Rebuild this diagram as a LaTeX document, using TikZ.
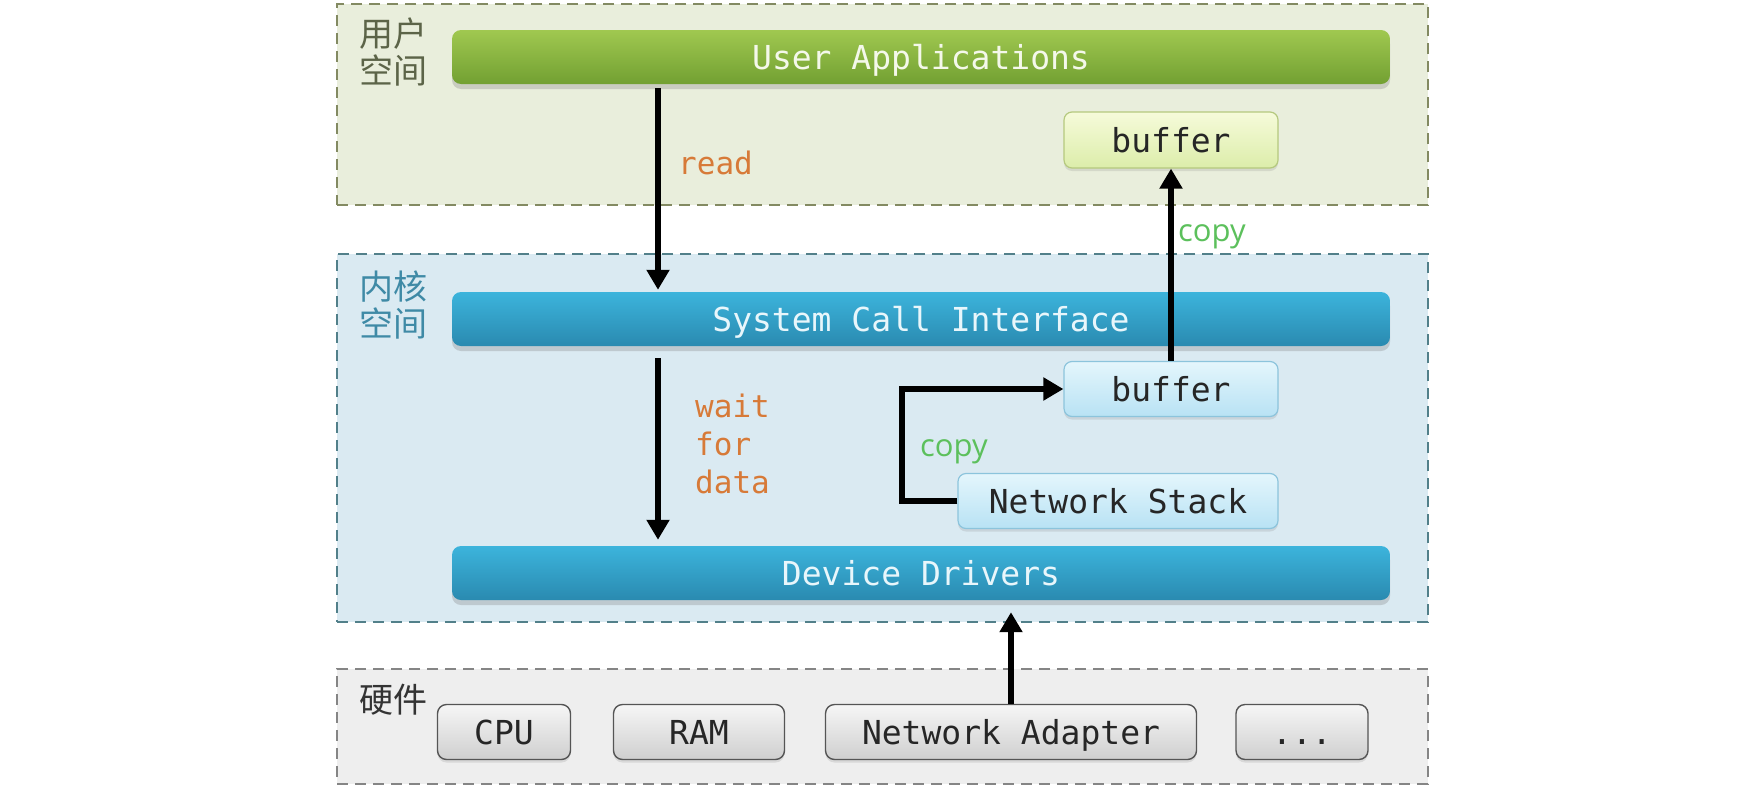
\documentclass[tikz,border=0pt]{standalone}
\usepackage{fontspec}
\setmonofont{DejaVu Sans Mono}
\newfontfamily\cjk{Noto Sans CJK SC}
\newfontfamily\lblfont{Open Sans}
\usetikzlibrary{arrows.meta,shadows}
\definecolor{userfill}{HTML}{E9EEDC}
\definecolor{userline}{HTML}{838A62}
\definecolor{kernfill}{HTML}{DAEAF2}
\definecolor{kernline}{HTML}{52808A}
\definecolor{hwfill}{HTML}{EEEEEE}
\definecolor{hwline}{HTML}{858585}
\definecolor{gtop}{HTML}{A0C850}
\definecolor{gbot}{HTML}{72A032}
\definecolor{btop}{HTML}{3CB4DC}
\definecolor{bbot}{HTML}{2A8AB0}
\definecolor{ubtop}{HTML}{F6FBDA}
\definecolor{ubbot}{HTML}{DCEDAA}
\definecolor{ubline}{HTML}{B5C97E}
\definecolor{kbtop}{HTML}{E4F6FC}
\definecolor{kbbot}{HTML}{B8E2F4}
\definecolor{kbline}{HTML}{8CC4DC}
\definecolor{htop}{HTML}{F6F6F6}
\definecolor{hbot}{HTML}{CFCFCF}
\definecolor{hline}{HTML}{555555}
\definecolor{orangelbl}{HTML}{D77A38}
\definecolor{greenlbl}{HTML}{5CC05C}
\definecolor{usertxt}{HTML}{5C6448}
\definecolor{kerntxt}{HTML}{3F8AA6}
\definecolor{hwtxt}{HTML}{333333}
\tikzset{
  region/.style={line width=2.8pt, dash pattern=on 11pt off 7pt, inner sep=0pt},
  mono/.style={font=\ttfamily\fontsize{33}{40}\selectfont, text height=24pt, text depth=0pt},
  bar/.style={mono, rounded corners=9pt, minimum width=938pt, minimum height=54pt, inner sep=0pt,
    top color=btop, bottom color=bbot, text=white!88!btop,
    drop shadow={opacity=0.3, shadow xshift=0pt, shadow yshift=-5pt}},
  ubox/.style={mono, rounded corners=8pt, minimum height=56pt, inner sep=0pt, draw=ubline, line width=1.2pt,
    top color=ubtop, bottom color=ubbot, text=black!85,
    drop shadow={opacity=0.2, shadow xshift=0pt, shadow yshift=-3pt}},
  kbox/.style={mono, rounded corners=8pt, minimum height=55pt, inner sep=0pt, draw=kbline, line width=1.2pt,
    top color=kbtop, bottom color=kbbot, text=black!85,
    drop shadow={opacity=0.2, shadow xshift=0pt, shadow yshift=-3pt}},
  hbox/.style={mono, rounded corners=9pt, minimum height=55pt, inner sep=0pt, draw=hline, line width=1.4pt,
    top color=htop, bottom color=hbot, text=black!85,
    drop shadow={opacity=0.2, shadow xshift=0pt, shadow yshift=-3pt}},
  arr/.style={line width=6.5pt, -{Triangle[length=20pt,width=22pt]}},
  elbow/.style={line width=6.5pt, -{Triangle[length=20pt,width=22pt]}, line join=miter},
  olbl/.style={font=\ttfamily\fontsize{31}{38}\selectfont, text=orangelbl, anchor=west, inner sep=0pt},
  glbl/.style={font=\lblfont\fontsize{31}{38}\selectfont, text=greenlbl, anchor=west, inner sep=0pt},
  zh/.style={font=\cjk\fontsize{34}{37}\selectfont, anchor=north west, inner sep=0pt, align=left}
}
\begin{document}
\begin{tikzpicture}[x=1pt,y=-1pt]
\useasboundingbox[fill=white] (0,0) rectangle (1763,787);
% regions
\node[region, draw=userline, fill=userfill, minimum width=1091pt, minimum height=201pt] (user) at (882.5,104.5) {};
\node[region, draw=kernline, fill=kernfill, minimum width=1091pt, minimum height=368pt] (kernel) at (882.5,438) {};
\node[region, draw=hwline, fill=hwfill, minimum width=1091pt, minimum height=115pt] (hw) at (882.5,726.5) {};
% region labels
\node[zh, text=usertxt] (zhuser) at (359,18) {用户\\空间};
\node[zh, text=kerntxt] (zhkern) at (359,271) {内核\\空间};
\node[zh, text=hwtxt] (zhhw) at (359,684) {硬件};
% bars
\node[bar, top color=gtop, bottom color=gbot, text=white!88!gtop] (ua) at (921,57) {User Applications};
\node[bar] (sci) at (921,319) {System Call Interface};
\node[bar] (dd) at (921,573) {Device Drivers};
% buffers
\node[ubox, minimum width=214pt] (ubuf) at (1171,140) {buffer};
\node[kbox, minimum width=214pt] (kbuf) at (1171,389) {buffer};
\node[kbox, minimum width=320pt] (ns) at (1118,501) {Network Stack};
% hardware
\node[hbox, minimum width=133pt] (cpu) at (504,732) {CPU};
\node[hbox, minimum width=171pt] (ram) at (699,732) {RAM};
\node[hbox, minimum width=371pt] (na) at (1011,732) {Network Adapter};
\node[hbox, minimum width=132pt] (etc) at (1302,732) {...};
% arrows
\coordinate (rx) at (658,0);
\coordinate (ex) at (902,0);
\draw[arr, shorten <=4pt, shorten >=2pt] (ua.south -| rx) -- (sci.north -| rx);
\draw[arr, shorten <=12pt, shorten >=6pt] (sci.south -| rx) -- (dd.north -| rx);
\draw[arr] (kbuf.north) -- (ubuf.south);
\draw[elbow] (ns.west) -- (ns.west -| ex) |- (kbuf.west);
\draw[arr, shorten >=12pt] (na.north) -- (na.north |- dd.south);
% labels
\node[olbl] (lread) at (678,163) {read};
\node[olbl, align=left, anchor=north west] (lwait) at (695,394) {wait\\for\\data};
\node[glbl] (lcopy1) at (1178,237) {copy};
\node[glbl] (lcopy2) at (920,452) {copy};
\end{tikzpicture}
\end{document}
